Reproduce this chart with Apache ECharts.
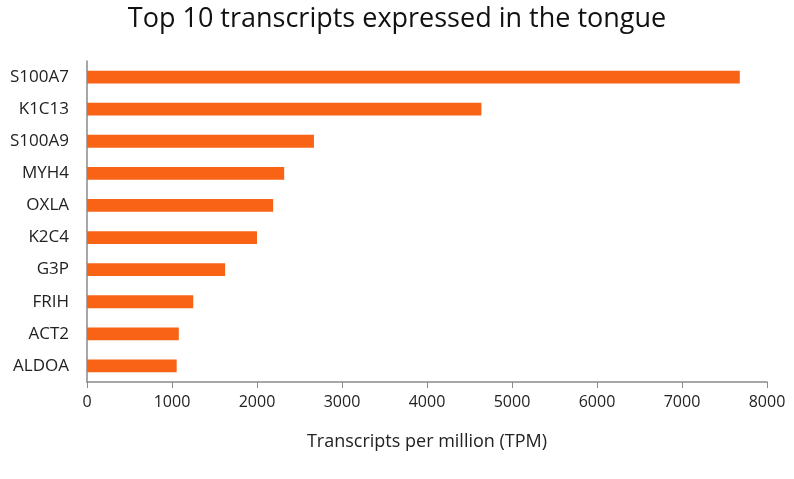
<!DOCTYPE html>
<html><head><meta charset="utf-8">
<script src="https://cdn.jsdelivr.net/npm/echarts@6/dist/echarts.min.js"></script>
<style>html,body{margin:0;padding:0;background:#fff}#c{width:794px;height:479px}</style>
</head><body><div id="c"></div>
<script>
const categories = ["S100A7","K1C13","S100A9","MYH4","OXLA","K2C4","G3P","FRIH","ACT2","ALDOA"];
const tpmValues = [7680, 4640, 2670, 2320, 2190, 2000, 1625, 1250, 1080, 1055];
const xTicks = [0,1000,2000,3000,4000,5000,6000,7000,8000];

const chart = echarts.init(document.getElementById('c'));
const font = 'Open Sans';
chart.setOption({
  animation:false,
  title:{text:'Top 10 transcripts expressed in the tongue', left:'center', top:1,
    textStyle:{fontFamily:font, fontSize:27, fontWeight:'normal', color:'#111'}},
  grid:{left:87, right:27, top:61, bottom:97, containLabel:false},
  xAxis:{type:'value', min:xTicks[0], max:xTicks[xTicks.length-1], interval:1000,
    name:'Transcripts per million (TPM)', nameLocation:'middle', nameGap:51,
    nameTextStyle:{fontFamily:font, fontSize:18, color:'#222'},
    axisLine:{show:true, lineStyle:{color:'#8a8a8a', width:1.5}},
    axisTick:{show:true, length:6, lineStyle:{color:'#8a8a8a'}},
    axisLabel:{fontFamily:font, fontSize:16, color:'#222', margin:12,
      formatter:v=>String(v)},
    splitLine:{show:false}},
  yAxis:{type:'category', data:categories, inverse:true,
    axisLine:{show:true, lineStyle:{color:'#8a8a8a', width:1.5}},
    axisTick:{show:false},
    axisLabel:{fontFamily:font, fontSize:17, color:'#222', margin:18}},
  series:[{type:'bar', data:tpmValues, barWidth:'40%',
    itemStyle:{color:'#f96316'}}]
});
</script></body></html>
